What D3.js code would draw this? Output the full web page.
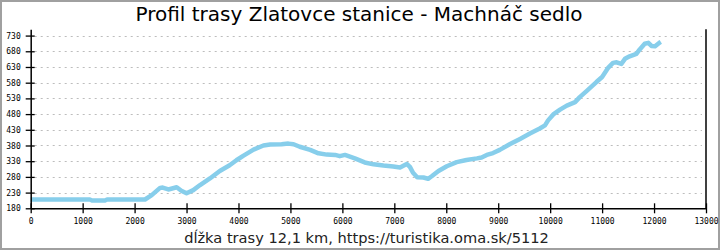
<!DOCTYPE html>
<html>
<head>
<meta charset="utf-8">
<script src="https://cdn.jsdelivr.net/npm/d3@7"></script>
<style>
  body { margin: 0; background: #fff; }
  svg { display: block; }
</style>
</head>
<body>
<script>
// chart data
const distance = [0, 1140, 1180, 1430, 1470, 2200, 2330, 2490, 2540, 2650, 2810, 2900, 3000, 3130, 3260,
  3450, 3640, 3830, 3960, 4090, 4290, 4480, 4610, 4830, 4960, 5060, 5180, 5380, 5540, 5700, 5860, 5950,
  6050, 6240, 6430, 6600, 6790, 6980, 7110, 7240, 7300, 7360, 7440, 7560, 7650, 7720, 7850, 8010, 8200,
  8390, 8590, 8680, 8780, 8900, 9030, 9220, 9420, 9610, 9800, 9900, 9960, 10060, 10190, 10320, 10480,
  10570, 10700, 10890, 11000, 11120, 11210, 11280, 11370, 11440, 11530, 11660, 11720, 11820, 11890,
  11950, 12020, 12110, 12130];
const elevation = [208, 208, 205, 205, 208, 208, 222, 245, 246, 240, 247, 236, 228, 238, 254,
  275, 299, 317, 333, 347, 367, 380, 383, 384, 386, 384, 376, 366, 355, 351, 350, 346,
  350, 339, 326, 320, 316, 313, 310, 321, 312, 293, 279, 278, 274, 282, 299, 314, 327,
  334, 339, 342, 350, 356, 366, 384, 401, 418, 434, 444, 460, 479, 494, 507, 518,
  534, 553, 582, 598, 628, 643, 645, 640, 656, 664, 672, 685, 704, 707,
  697, 696, 708, 710];
const xTicks = [0, 1000, 2000, 3000, 4000, 5000, 6000, 7000, 8000, 9000, 10000, 11000, 12000, 13000];
const yTicks = [180, 230, 280, 330, 380, 430, 480, 530, 580, 630, 680, 730];
const title = "Profil trasy Zlatovce stanice - Machnáč sedlo";
const xTitle = "dĺžka trasy 12,1 km, https://turistika.oma.sk/5112";

const w = 720;
const h = 250;
const plotLeft = 30.7, plotRight = 706, plotTop = 29.3, plotBottom = 208.3;
const tickFont = "'DejaVu Sans Mono', monospace";

let svg = d3.select("body")
  .append("svg")
  .attr("width", w)
  .attr("height", h);

// frame round the picture
svg.append("rect")
  .attr("x", 1).attr("y", 1)
  .attr("width", w - 2).attr("height", h - 2)
  .attr("fill", "#fff")
  .attr("stroke", "#a0a0a0")
  .attr("stroke-width", 2);

let xScale = d3.scaleLinear().domain([0, 13000]).range([plotLeft, plotRight]);
let yScale = d3.scaleLinear().domain([180, 750]).range([plotBottom, plotTop]);

// dashed grid
svg.append("g")
  .selectAll("line")
  .data(yTicks.slice(1))
  .enter()
  .append("line")
  .attr("x1", plotLeft + 4)
  .attr("x2", plotRight - 4)
  .attr("y1", d => Math.round(yScale(d)) + 0.5)
  .attr("y2", d => Math.round(yScale(d)) + 0.5)
  .attr("stroke", "#bdbdbd")
  .attr("stroke-dasharray", "2,4");

// elevation profile
const points = distance.map((d, i) => [d, elevation[i]]);
svg.append("path")
  .datum(points)
  .attr("fill", "none")
  .attr("stroke", "#87ceeb")
  .attr("stroke-width", 4.5)
  .attr("stroke-linejoin", "round")
  .attr("d", d3.line().x(d => xScale(d[0])).y(d => yScale(d[1])));

// x axis, ticks cross the line
let gx = svg.append("g")
  .attr("transform", `translate(0,${plotBottom})`)
  .call(d3.axisBottom(xScale).tickValues(xTicks).tickSize(5).tickSizeOuter(0).tickFormat(d3.format("d")));
gx.selectAll(".tick line").attr("y1", -5).attr("y2", 5).attr("stroke-width", 1.3);
gx.select(".domain").attr("stroke-width", 1.5);
gx.selectAll("text")
  .attr("y", 10).attr("dy", "0.71em")
  .style("font-family", tickFont).style("font-size", "8px").attr("fill", "#000");

// y axis
let gy = svg.append("g")
  .attr("transform", `translate(${plotLeft},0)`)
  .call(d3.axisLeft(yScale).tickValues(yTicks).tickSize(5).tickSizeOuter(0));
gy.selectAll(".tick line").attr("x1", -5).attr("x2", 4).attr("stroke-width", 1.3);
gy.select(".domain").attr("stroke-width", 1.5);
gy.selectAll("text")
  .attr("x", -10)
  .style("font-family", tickFont).style("font-size", "8px").attr("fill", "#000");

// right border of the plot
svg.append("line")
  .attr("x1", plotRight).attr("x2", plotRight)
  .attr("y1", plotTop).attr("y2", plotBottom)
  .attr("stroke", "#000")
  .attr("stroke-width", 1.5);

// titles
svg.append("text")
  .attr("x", 359).attr("y", 21)
  .attr("text-anchor", "middle")
  .style("font-family", "'DejaVu Sans', sans-serif")
  .style("font-size", "20px")
  .text(title);

svg.append("text")
  .attr("x", 366.5).attr("y", 243)
  .attr("text-anchor", "middle")
  .style("font-family", "'DejaVu Sans', sans-serif")
  .style("font-size", "14.6px")
  .attr("fill", "#222")
  .text(xTitle);
</script>
</body>
</html>
